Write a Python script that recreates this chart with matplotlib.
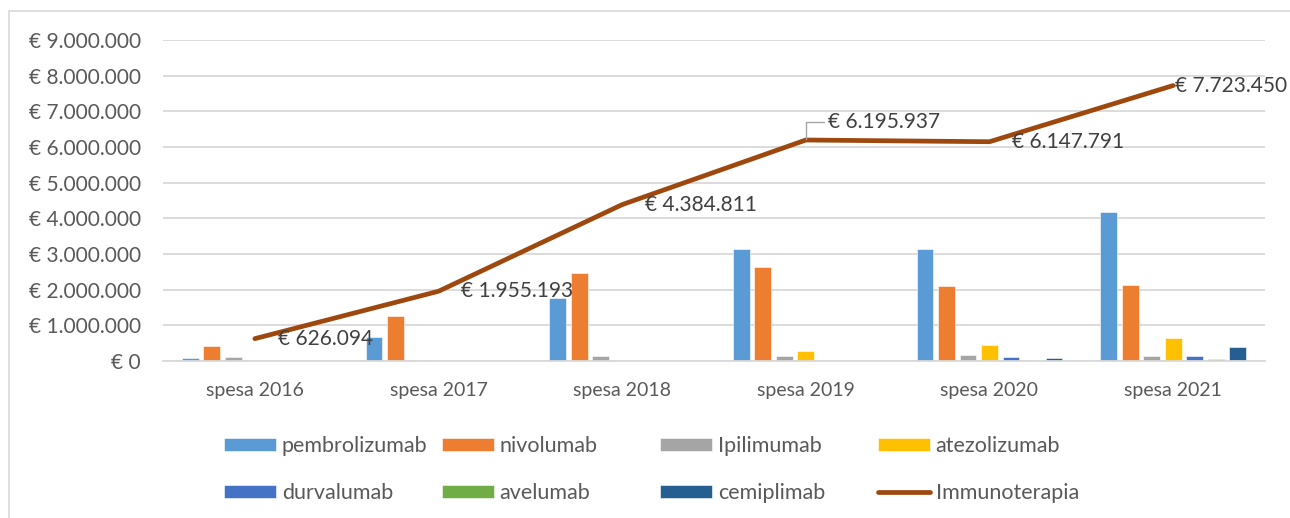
import numpy as np
import matplotlib
matplotlib.use("Agg")
import matplotlib.pyplot as plt
from matplotlib.patches import Rectangle
from matplotlib.ticker import FuncFormatter

plt.rcParams['font.family'] = ['Lato', 'DejaVu Sans']

categories = ["spesa 2016", "spesa 2017", "spesa 2018", "spesa 2019", "spesa 2020", "spesa 2021"]
farmaci = ["pembrolizumab", "nivolumab", "Ipilimumab", "atezolizumab",
           "durvalumab", "avelumab", "cemiplimab"]
pembrolizumab = [80000, 660000, 1780000, 3130000, 3130000, 4170000]
nivolumab = [420000, 1260000, 2460000, 2630000, 2110000, 2130000]
ipilimumab = [126000, 35000, 145000, 145000, 160000, 145000]
atezolizumab = [0, 0, 0, 270000, 450000, 640000]
durvalumab = [0, 0, 0, 0, 120000, 130000]
avelumab = [0, 0, 0, 0, 40000, 60000]
cemiplimab = [0, 0, 0, 0, 80000, 380000]
immunoterapia = [626094, 1955193, 4384811, 6195937, 6147791, 7723450]
etichette = ["€ 626.094", "€ 1.955.193", "€ 4.384.811", "€ 6.195.937", "€ 6.147.791", "€ 7.723.450"]

serie = [pembrolizumab, nivolumab, ipilimumab, atezolizumab, durvalumab, avelumab, cemiplimab]
colori = ["#5B9BD5", "#ED7D31", "#A5A5A5", "#FFC000", "#4472C4", "#70AD47", "#255E91"]
col_linea = "#9E480E"
grigio = "#595959"

fig = plt.figure(figsize=(12.9, 5.18), dpi=100)
ax = fig.add_axes([163/1290, 1-361/518, (1265-163)/1290, (361-40)/518])

x = np.arange(len(categories))
step = 0.117
w = 0.092
handles = []
for i, (vals, c) in enumerate(zip(serie, colori)):
    b = ax.bar(x + (i - 3) * step, vals, width=w, color=c, edgecolor="white",
               linewidth=0.4, label=farmaci[i], zorder=2)
    handles.append(b)

ln, = ax.plot(x, immunoterapia, color=col_linea, linewidth=3.4,
              solid_capstyle="round", label="Immunoterapia", zorder=3)
handles.append(ln)

# etichette dati
offs = [(16.5, 0), (16.5, 0), (16.5, 0), None, (16.5, 0), (1.5, 0)]
for i, (v, t) in enumerate(zip(immunoterapia, etichette)):
    if offs[i] is None:
        ax.annotate(t, (x[i], v), xytext=(16, 13), textcoords="offset points",
                    ha="left", va="center", fontsize=15, color="#404040",
                    arrowprops=dict(arrowstyle="-", color="#A6A6A6", lw=1,
                                    shrinkA=1, shrinkB=1,
                                    connectionstyle="angle,angleA=0,angleB=90,rad=0"),
                    zorder=4)
    else:
        ax.annotate(t, (x[i], v), xytext=offs[i], textcoords="offset points",
                    ha="left", va="center", fontsize=15, color="#404040", zorder=4)

ax.set_xlim(-0.5, 5.5)
ax.set_ylim(0, 9000000)
ax.set_yticks(np.arange(0, 9000001, 1000000))
ax.yaxis.set_major_formatter(FuncFormatter(
    lambda v, p: "€ " + f"{int(v):,}".replace(",", ".")))
ax.set_xticks(x)
ax.set_xticklabels(categories)
ax.tick_params(axis="both", length=0, colors=grigio)
ax.tick_params(axis="y", pad=16, labelsize=15)
ax.tick_params(axis="x", pad=15, labelsize=14)
ax.grid(axis="y", color="#D9D9D9", linewidth=1.3, zorder=0)
ax.set_axisbelow(True)
for s in ["top", "right", "left"]:
    ax.spines[s].set_visible(False)
ax.spines["bottom"].set_color("#D9D9D9")
ax.spines["bottom"].set_linewidth(1.3)

# legenda: 4 colonne a passo fisso
for j in range(4):
    hs = [handles[j], handles[j + 4]]
    fig.legend(hs, [h.get_label() for h in hs], loc="upper left",
               bbox_to_anchor=((224 + 218 * j) / 1290, 1 - 436/518),
               frameon=False, fontsize=15.5, labelcolor=grigio,
               handlelength=2.4, handleheight=0.56, handletextpad=0.28,
               labelspacing=1.25, borderpad=0, borderaxespad=0)

# cornice esterna
fig.patches.append(Rectangle((9/1290, -0.01), 1.0, 1 - 11/518 + 0.01,
                             transform=fig.transFigure, fill=False,
                             edgecolor="#D9D9D9", linewidth=1.2))

fig.savefig("out.png", dpi=100)
